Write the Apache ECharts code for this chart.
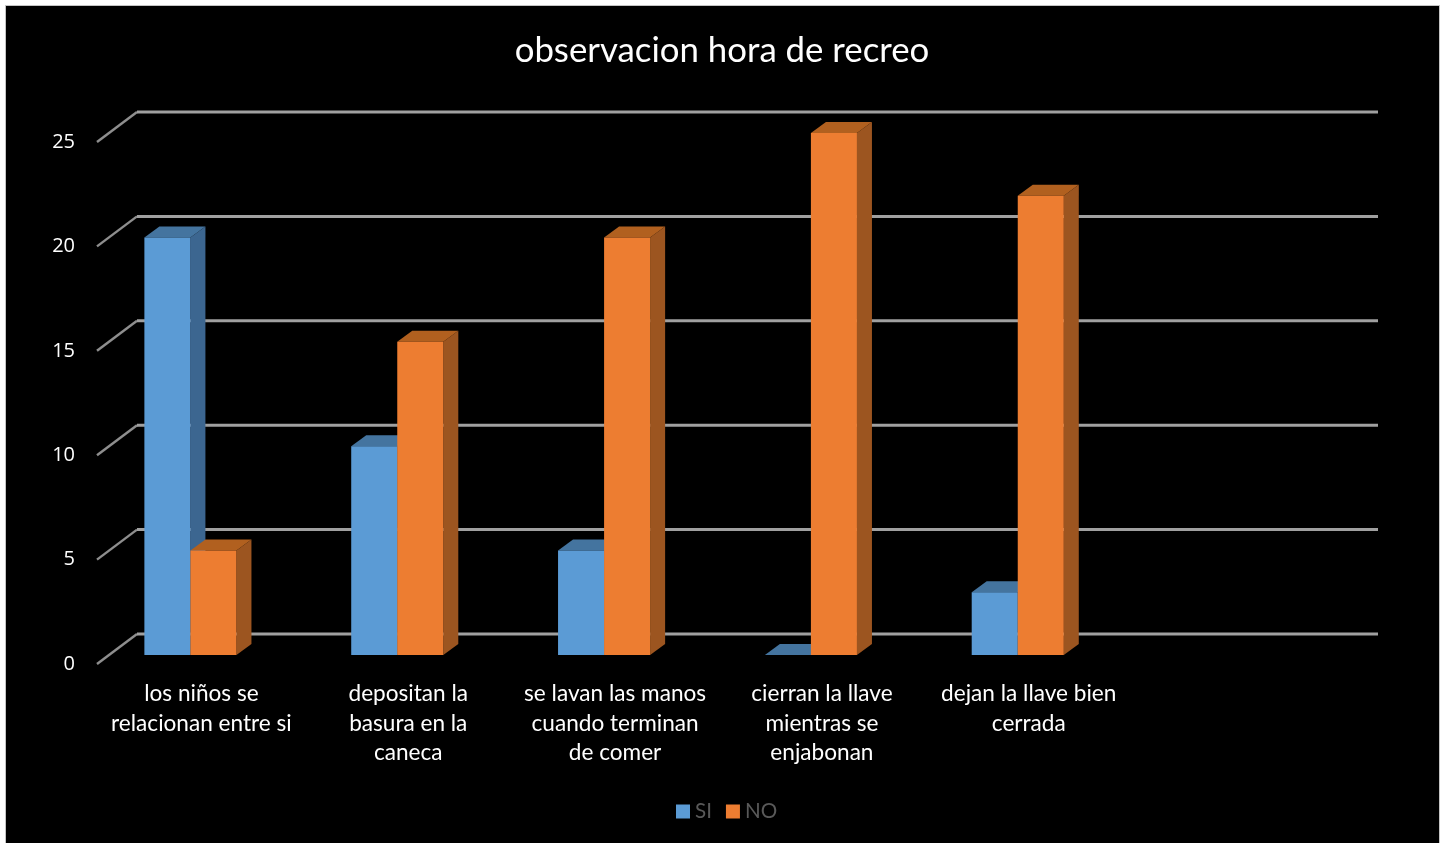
<!DOCTYPE html>
<html><head><meta charset="utf-8">
<script src="https://cdn.jsdelivr.net/npm/echarts@6/dist/echarts.min.js"></script>
<style>
html,body{margin:0;padding:0;background:#fff;width:1444px;height:843px;overflow:hidden}
#panel{position:absolute;left:5px;top:5px;width:1433px;height:838px;background:#000;border:1px solid #c4c4c4;border-bottom:none}
#chart{position:absolute;left:0;top:0;width:1444px;height:843px}
</style></head><body>
<div id="panel"></div><div id="chart"></div>
<script>
const categories = ['los niños se\nrelacionan entre si','depositan la\nbasura en la\ncaneca','se lavan las manos\ncuando terminan\nde comer','cierran la llave\nmientras se\nenjabonan','dejan la llave bien\ncerrada',''];
const siValues = [20,10,5,0,3];
const noValues = [5,15,20,25,22];
const yTicks = [0,5,10,15,20,25];
const FONT = 'Lato';

const WALL_DX = 40, WALL_DY = 30, BAR_DX = 15, BAR_DY = 11, LIFT = 9, GROUP_SHIFT = -10, BAR_SHARE = 46/206.67;

function barRenderer(order, front, top, side) {
  return function (params, api) {
    const p = api.coord([api.value(0), api.value(1)]);
    const base = api.coord([api.value(0), 0]);
    const w = api.size([1, 0])[0] * BAR_SHARE;
    const x0 = p[0] + GROUP_SHIFT + (order === 0 ? -w : 0);
    const x1 = x0 + w;
    const yT = p[1] - LIFT, yB = base[1] - LIFT;
    return {
      type: 'group',
      children: [
        { type: 'polygon', shape: { points: [[x1,yT],[x1+BAR_DX,yT-BAR_DY],[x1+BAR_DX,yB-BAR_DY],[x1,yB]] }, style: { fill: side } },
        { type: 'polygon', shape: { points: [[x0,yT],[x0+BAR_DX,yT-BAR_DY],[x1+BAR_DX,yT-BAR_DY],[x1,yT]] }, style: { fill: top } },
        { type: 'rect', shape: { x: x0, y: yT, width: w, height: Math.max(yB - yT, 0) }, style: { fill: front } }
      ]
    };
  };
}

function gridRenderer(params, api) {
  const y = api.coord([0, api.value(1)])[1];
  const cs = params.coordSys;
  return {
    type: 'group',
    children: [
      { type: 'polyline', shape: { points: [[cs.x, y],[cs.x + WALL_DX, y - WALL_DY]] }, style: { stroke: '#8e8e8e', lineWidth: 2.4, fill: 'none' } },
      { type: 'polyline', shape: { points: [[cs.x + WALL_DX, y - WALL_DY],[cs.x + cs.width + WALL_DX, y - WALL_DY]] }, style: { stroke: '#a0a0a0', lineWidth: 3, fill: 'none' } }
    ]
  };
}

const chart = echarts.init(document.getElementById('chart'), null, { width: 1444, height: 843 });
chart.setOption({
  backgroundColor: 'transparent',
  animation: false,
  textStyle: { fontFamily: FONT },
  title: {
    text: 'observacion hora de recreo', left: 717, top: 28, textAlign: 'center',
    textStyle: { color: '#ffffff', fontSize: 34.8, fontWeight: 'normal', fontFamily: FONT }
  },
  legend: {
    data: ['SI','NO'], left: 671, top: 796, itemWidth: 14, itemHeight: 14, itemGap: 14, icon: 'rect',
    textStyle: { color: '#595959', fontSize: 20.6, fontFamily: FONT }
  },
  grid: { left: 97, right: 106, top: 142, bottom: 179 },
  xAxis: {
    type: 'category', data: categories, axisLine: { show: false }, axisTick: { show: false },
    axisLabel: { interval: 0, color: '#ffffff', fontSize: 22.6, fontFamily: FONT, lineHeight: 29.5, margin: 15, hideOverlap: false, padding: [0,0,0,2] }
  },
  yAxis: {
    type: 'value', min: 0, max: 25, interval: 5, splitLine: { show: false }, axisLine: { show: false }, axisTick: { show: false },
    axisLabel: { color: '#ffffff', fontSize: 20, fontFamily: 'Open Sans', margin: 22, padding: [2,0,0,0] }
  },
  series: [
    { type: 'custom', name: 'grid', silent: true, z: 1, renderItem: gridRenderer, data: yTicks.map(t => [0, t]), encode: { x: 0, y: 1 } },
    { type: 'custom', name: 'SI', z: 2, itemStyle: { color: '#5B9BD5' }, renderItem: barRenderer(0, '#5B9BD5', '#44749F', '#3C6690'), data: siValues.map((v, i) => [i, v]), encode: { x: 0, y: 1 } },
    { type: 'custom', name: 'NO', z: 3, itemStyle: { color: '#ED7D31' }, renderItem: barRenderer(1, '#ED7D31', '#B1601F', '#9C5520'), data: noValues.map((v, i) => [i, v]), encode: { x: 0, y: 1 } }
  ]
});
</script></body></html>
